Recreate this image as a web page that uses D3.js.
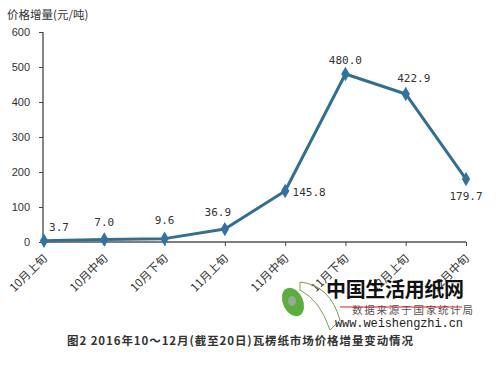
<!DOCTYPE html>
<html><head><meta charset="utf-8">
<script src="https://cdn.jsdelivr.net/npm/d3@7"></script>
<style>body{margin:0;background:#fff}svg{display:block}</style>
</head><body>
<script>
const categories = ["10月上旬","10月中旬","10月下旬","11月上旬","11月中旬","11月下旬","12月上旬","12月中旬"];
const values = [3.7, 7.0, 9.6, 36.9, 145.8, 480.0, 422.9, 179.7];
const valueLabels = ["3.7","7.0","9.6","36.9","145.8","480.0","422.9","179.7"];
const yTicks = [0,100,200,300,400,500,600];
const yTitle = "价格增量(元/吨)";
const caption = "图2  2016年10～12月(截至20日)瓦楞纸市场价格增量变动情况";

const W=500,H=368;
const svg=d3.select("body").append("svg").attr("width",W).attr("height",H);
const x=d3.scalePoint().domain(categories).range([44,466]);
const y=d3.scaleLinear().domain([0,600]).range([242,32]);
const col="#326f94";
const lblFont="'DejaVu Sans Mono','Liberation Mono',monospace";

// y axis
const ya=svg.append("g").attr("transform","translate(43,0)")
  .call(d3.axisLeft(y).tickValues(yTicks).tickSize(4).tickPadding(9).tickFormat(d3.format("d")));
ya.select(".domain").attr("stroke","#444").attr("stroke-width",1.3).attr("d","M-0,32V242");
ya.selectAll(".tick line").attr("stroke","#444");
ya.selectAll("text").attr("font-family","Liberation Sans, Arial, sans-serif").attr("font-size",11).attr("fill","#333");

// x axis
const xa=svg.append("g").attr("transform","translate(0,242)")
  .call(d3.axisBottom(x).tickSize(4).tickFormat(""));
xa.select(".domain").attr("stroke","#555").attr("stroke-width",1.3).attr("d","M43,0H466");
xa.selectAll(".tick line").attr("stroke","#444");
xa.selectAll(".tick").filter((d,i)=>i===0).select("line").remove();
// rotated labels
svg.append("g").selectAll("text").data(categories).join("text")
  .attr("transform",d=>`translate(${x(d)+4},${259}) rotate(-45)`)
  .attr("text-anchor","end").attr("font-family","'Noto Sans CJK SC',sans-serif")
  .attr("font-size",11.5).attr("fill","#333").text(d=>d);

// y title
svg.append("text").attr("x",7).attr("y",19).attr("font-family","'Noto Sans CJK SC',sans-serif")
  .attr("font-size",11.5).attr("fill","#333").text(yTitle);

// line
svg.append("path").datum(values)
  .attr("d",d3.line().x((d,i)=>x(categories[i])).y(d=>y(d)))
  .attr("fill","none").attr("stroke",col).attr("stroke-width",3).attr("stroke-linejoin","round");
svg.append("g").selectAll("path").data(values).join("path")
  .attr("transform",(d,i)=>`translate(${x(categories[i])},${y(d)})`)
  .attr("d",d3.symbol(d3.symbolDiamond,60)).attr("fill","#2f72a3");

// value labels
const off=[[15,-14],[0,-17],[0,-18],[-7,-17],[24,1],[0,-14],[8,-16],[0,17]];
svg.append("g").selectAll("text").data(values).join("text")
  .attr("x",(d,i)=>x(categories[i])+off[i][0]).attr("y",(d,i)=>y(d)+off[i][1])
  .attr("dy","0.35em").attr("text-anchor","middle")
  .attr("font-family",lblFont).attr("font-size",11).attr("fill","#333")
  .text((d,i)=>valueLabels[i]);

// watermark
const wm=svg.append("g");
wm.append("path").attr("d","M300,282 Q330,285 340,320 L330,330 Q320,300 300,290Z").attr("fill","none").attr("stroke","#7a9a5a").attr("stroke-width",1);
wm.append("ellipse").attr("cx",293).attr("cy",302).attr("rx",10).attr("ry",15).attr("transform","rotate(-25,293,302)").attr("fill","#5aae3a");
wm.append("ellipse").attr("cx",292).attr("cy",301).attr("rx",4).attr("ry",5).attr("fill","#9aa8a0");
wm.append("text").attr("x",326).attr("y",297).attr("font-family","'Noto Sans CJK SC',sans-serif").attr("font-weight","bold")
  .attr("font-size",20).attr("fill","#111").attr("textLength",138).text("中国生活用纸网");
wm.append("text").attr("x",352).attr("y",314).attr("font-family","'Noto Sans CJK SC',sans-serif")
  .attr("font-size",10.5).attr("fill","#555").attr("textLength",121).text("数据来源于国家统计局");
wm.append("line").attr("x1",340).attr("x2",462).attr("y1",307).attr("y2",307).attr("stroke","#d22").attr("stroke-width",1.2);
wm.append("text").attr("x",335).attr("y",327).attr("font-family","'Liberation Mono','DejaVu Sans Mono',monospace")
  .attr("font-size",12).attr("fill","#222").attr("textLength",128).text("www.weishengzhi.cn");

// caption
svg.append("text").attr("x",67).attr("y",345).attr("font-family","'Noto Sans CJK SC',sans-serif")
  .attr("font-size",11.5).attr("font-weight","bold").attr("fill","#333").attr("textLength",346).text(caption);
</script>
</body></html>
